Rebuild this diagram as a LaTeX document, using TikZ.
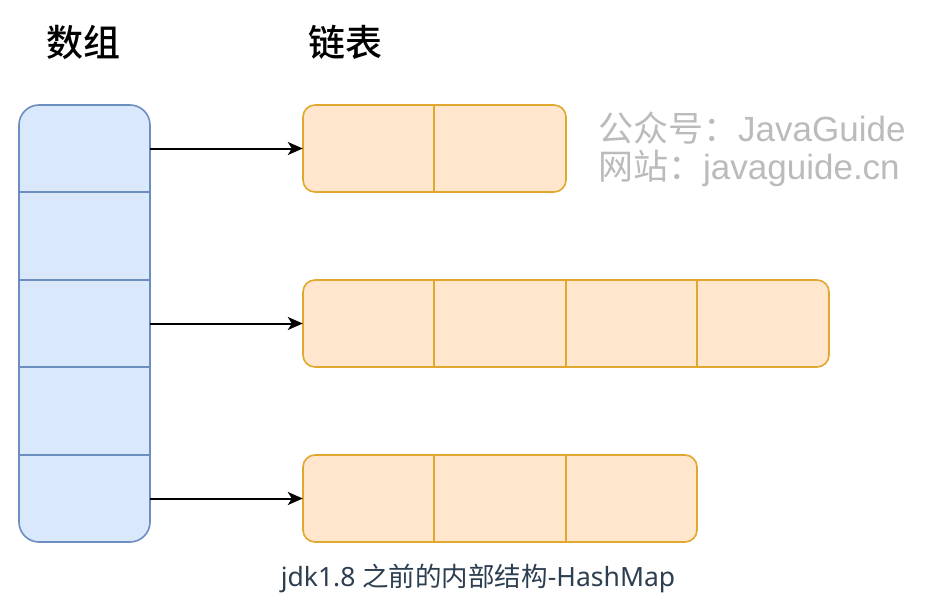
\documentclass[tikz,border=0pt]{standalone}
\usepackage{fontspec}
\setmainfont{Noto Sans}
\newfontfamily\cjk{Noto Sans CJK SC}[BoldFont={Noto Sans CJK SC Medium}]
\newfontfamily\wmfont{Liberation Sans}
\usetikzlibrary{arrows.meta}

\definecolor{arrfill}{HTML}{DAE8FC}
\definecolor{arrline}{HTML}{6C8EBF}
\definecolor{listfill}{HTML}{FFE6CC}
\definecolor{listline}{HTML}{E0A82E}
\definecolor{wmgray}{HTML}{BBBBBB}
\definecolor{captext}{HTML}{2C3E50}

\tikzset{
  arraybox/.style={fill=arrfill, draw=arrline, line width=1.6pt, rounded corners=20pt},
  listbox/.style={fill=listfill, draw=listline, line width=1.6pt, rounded corners=12pt},
  cell/.style={minimum width=131pt, minimum height=87pt, inner sep=0pt},
  link/.style={line width=2pt, -{Stealth[length=15pt, width=13pt, inset=4pt]}},
  heading/.style={font=\cjk\bfseries\fontsize{37}{42}\selectfont},
  watermark/.style={text=wmgray, anchor=west, inner sep=0pt, font=\wmfont\fontsize{35}{40}\selectfont},
}

\begin{document}
\begin{tikzpicture}[x=1pt, y=-1pt]
\useasboundingbox (0,0) rectangle (950,615);

% Array (5 slots)
\filldraw[arraybox] (19,105) rectangle (150,542);
\foreach \yy in {192,280,367,455}
  \draw[arrline, line width=1.6pt] (19,\yy) -- (150,\yy);
\node[cell] (a1) at (84.5,148.5) {};
\node[cell] (a3) at (84.5,323.5) {};
\node[cell] (a5) at (84.5,498.5) {};

% Linked lists
\filldraw[listbox] (303,105) rectangle (566,192);
\draw[listline, line width=1.6pt] (434,105) -- (434,192);
\filldraw[listbox] (303,280) rectangle (829,367);
\foreach \xx in {434,566,697}
  \draw[listline, line width=1.6pt] (\xx,280) -- (\xx,367);
\filldraw[listbox] (303,455) rectangle (697,542);
\foreach \xx in {434,566}
  \draw[listline, line width=1.6pt] (\xx,455) -- (\xx,542);
\node[cell] (p1) at (368.5,148.5) {};
\node[cell] (q1) at (368.5,323.5) {};
\node[cell] (r1) at (368.5,498.5) {};

% Links from slots to list heads
\draw[link] (a1.east) -- (p1.west);
\draw[link] (a3.east) -- (q1.west);
\draw[link] (a5.east) -- (r1.west);

% Titles
\node[heading] (arrtitle) at (83,42) {数组};
\node[heading] (listtitle) at (345,42) {链表};

% Watermark
\node[watermark] (wm1) at (598,128) {{\cjk 公众号：}JavaGuide};
\node[watermark] (wm2) at (598,168) {{\cjk 网站：}javaguide.cn};

% Caption
\node[text=captext, font=\fontsize{26.5}{30}\selectfont] (caption) at (478,578) {jdk1.8 {\cjk 之前的内部结构}-HashMap};

\end{tikzpicture}
\end{document}
